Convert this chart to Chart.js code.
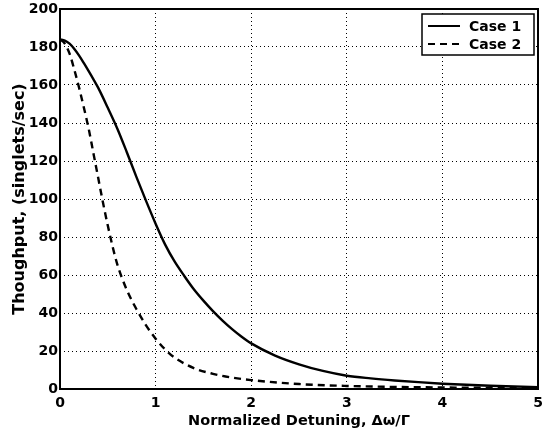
<!DOCTYPE html>
<html>
<head>
<meta charset="utf-8">
<script src="https://cdn.jsdelivr.net/npm/chart.js@4"></script>
<style>
  html, body { margin: 0; padding: 0; background: #fff; }
  #wrap { width: 542px; height: 437px; }
</style>
</head>
<body>
<div id="wrap"><canvas id="chart" width="542" height="437"></canvas></div>
<script>
// Case 1 (solid)
const case1X = [0, 0.05, 0.1, 0.15, 0.2, 0.25, 0.3, 0.35, 0.4, 0.5, 0.6, 0.7, 0.8, 0.9, 1.0, 1.1, 1.2, 1.3, 1.4, 1.5,
  1.6, 1.7, 1.8, 1.9, 2.0, 2.25, 2.5, 2.75, 3.0, 3.25, 3.5, 3.75, 4.0, 4.25, 4.5, 4.75, 5.0];
const case1Y = [184, 183.4, 181.8, 179, 175.5, 171.5, 167.3, 163, 158.5, 148, 137, 124.5, 111.5, 99, 87, 76, 67, 59.5, 52.5, 46.5,
  41, 36, 31.5, 27.5, 24, 17.6, 13, 9.5, 7, 5.6, 4.5, 3.6, 2.8, 2.2, 1.7, 1.3, 1.0];

// Case 2 (dashed)
const case2X = [0, 0.05, 0.1, 0.15, 0.2, 0.25, 0.3, 0.35, 0.4, 0.45, 0.5, 0.55, 0.6, 0.7, 0.8, 0.9, 1.0,
  1.1, 1.2, 1.4, 1.6, 1.8, 2.0, 2.5, 3.0, 3.5, 4.0, 4.5, 5.0];
const case2Y = [184, 181.8, 176.5, 168, 158.5, 148, 137, 124, 111, 98, 86, 75, 65.5, 52, 42, 33.5, 26.5,
  20.8, 16.5, 11, 8, 6, 4.7, 2.6, 1.6, 1.1, 0.8, 0.6, 0.4];

const xTicks = [0, 1, 2, 3, 4, 5];
const yTicks = [0, 20, 40, 60, 80, 100, 120, 140, 160, 180, 200];

const FONT = '"DejaVu Sans", sans-serif';

function pts(xs, ys) {
  return xs.map((x, i) => ({ x, y: ys[i] }));
}

// frame + legend box drawn on top, like the matlab figure
const framePlugin = {
  id: 'frame',
  afterDraw(chart) {
    const { ctx, chartArea: a } = chart;
    ctx.save();
    ctx.strokeStyle = '#000';
    ctx.lineWidth = 2;
    ctx.strokeRect(a.left, a.top, a.right - a.left, a.bottom - a.top);

    // legend
    const boxL = a.right - 116, boxT = a.top + 5, boxW = 112, boxH = 41;
    ctx.fillStyle = '#fff';
    ctx.fillRect(boxL, boxT, boxW, boxH);
    ctx.lineWidth = 1.5;
    ctx.strokeRect(boxL, boxT, boxW, boxH);
    ctx.font = 'bold 14px ' + FONT;
    ctx.textBaseline = 'middle';
    ctx.fillStyle = '#000';
    chart.data.datasets.forEach((ds, i) => {
      const y = boxT + 12 + i * 18;
      ctx.beginPath();
      ctx.lineWidth = 2;
      ctx.setLineDash(ds.borderDash || []);
      ctx.moveTo(boxL + 6, y);
      ctx.lineTo(boxL + 38, y);
      ctx.stroke();
      ctx.setLineDash([]);
      ctx.fillText(ds.label, boxL + 47, y + 1);
    });
    ctx.restore();
  }
};

new Chart(document.getElementById('chart'), {
  type: 'line',
  data: {
    datasets: [
      {
        label: 'Case 1',
        data: pts(case1X, case1Y),
        borderColor: '#000',
        borderWidth: 2.4,
        pointRadius: 0,
        cubicInterpolationMode: 'monotone',
        fill: false,
      },
      {
        label: 'Case 2',
        data: pts(case2X, case2Y),
        borderColor: '#000',
        borderWidth: 2.4,
        borderDash: [7, 5],
        pointRadius: 0,
        cubicInterpolationMode: 'monotone',
        fill: false,
      },
    ],
  },
  options: {
    responsive: false,
    animation: false,
    layout: { padding: { top: 9, right: 4, left: 0, bottom: 0 } },
    plugins: {
      legend: { display: false },
      tooltip: { enabled: false },
    },
    scales: {
      x: {
        type: 'linear',
        min: 0,
        max: 5,
        afterBuildTicks: s => { s.ticks = xTicks.map(v => ({ value: v })); },
        afterFit: s => { s.height = 48; s.paddingLeft = 0; s.paddingRight = 0; },
        ticks: { color: '#000', font: { family: FONT, size: 14, weight: 'bold' }, padding: 6 },
        grid: { color: '#000', lineWidth: 1, drawTicks: false },
        border: { display: false, dash: [1, 3] },
        title: {
          display: true,
          text: 'Normalized Detuning, \u0394\u03c9/\u0393',
          color: '#000',
          font: { family: FONT, size: 14.5, weight: 'bold' },
          padding: { top: 2, bottom: 7 },
        },
      },
      y: {
        min: 0,
        max: 200,
        afterBuildTicks: s => { s.ticks = yTicks.map(v => ({ value: v })); },
        afterFit: s => { s.width = 60; s.paddingTop = 0; s.paddingBottom = 0; },
        ticks: { color: '#000', font: { family: FONT, size: 14, weight: 'bold' }, padding: 2 },
        grid: { color: '#000', lineWidth: 1, drawTicks: false },
        border: { display: false, dash: [1, 3] },
        title: {
          display: true,
          text: 'Thoughput, (singlets/sec)',
          color: '#000',
          font: { family: FONT, size: 16, weight: 'bold' },
          padding: { top: 10, bottom: 4 },
        },
      },
    },
  },
  plugins: [framePlugin],
});
</script>
</body>
</html>
